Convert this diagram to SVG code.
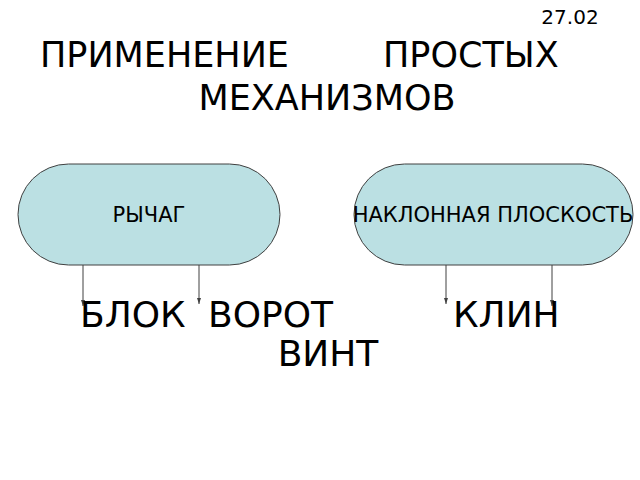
<svg xmlns="http://www.w3.org/2000/svg" width="640" height="480" viewBox="0 0 640 480">
<style>
text{font-family:"DejaVu Sans",sans-serif;fill:#000}
.n{fill:#bbe0e3;stroke:#404040;stroke-width:1}
.c line{stroke:#404040;stroke-width:1;marker-end:url(#a)}
</style>
<defs><marker id="a" markerWidth="6" markerHeight="4" refX="6" refY="2" orient="auto" markerUnits="userSpaceOnUse"><path d="M0,0 L6,2 L0,4z" fill="#404040"/></marker></defs>
<rect width="640" height="480" fill="#fff"/>
<text x="570" y="24" font-size="20" text-anchor="middle">27.02</text>
<text x="40" y="67" font-size="35">ПРИМЕНЕНИЕ</text>
<text x="383" y="67" font-size="35">ПРОСТЫХ</text>
<text x="327" y="110" font-size="35" text-anchor="middle">МЕХАНИЗМОВ</text>
<g id="n1"><rect class="n" x="18" y="164" width="262" height="101" rx="50.5"/><text x="149" y="222" font-size="21" text-anchor="middle">РЫЧАГ</text></g>
<g id="n2"><rect class="n" x="354" y="164" width="279" height="101" rx="50.5"/><text x="493" y="222" font-size="21" text-anchor="middle">НАКЛОННАЯ ПЛОСКОСТЬ</text></g>
<g class="c">
<line x1="83" y1="265" x2="83" y2="306"/>
<line x1="199" y1="265" x2="199" y2="304"/>
<line x1="446" y1="265" x2="446" y2="304"/>
<line x1="552" y1="265" x2="552" y2="306"/>
</g>
<text x="80" y="327" font-size="36">БЛОК</text>
<text x="208" y="327" font-size="36">ВОРОТ</text>
<text x="453" y="327" font-size="36">КЛИН</text>
<text x="328" y="366" font-size="36" text-anchor="middle">ВИНТ</text>
</svg>
